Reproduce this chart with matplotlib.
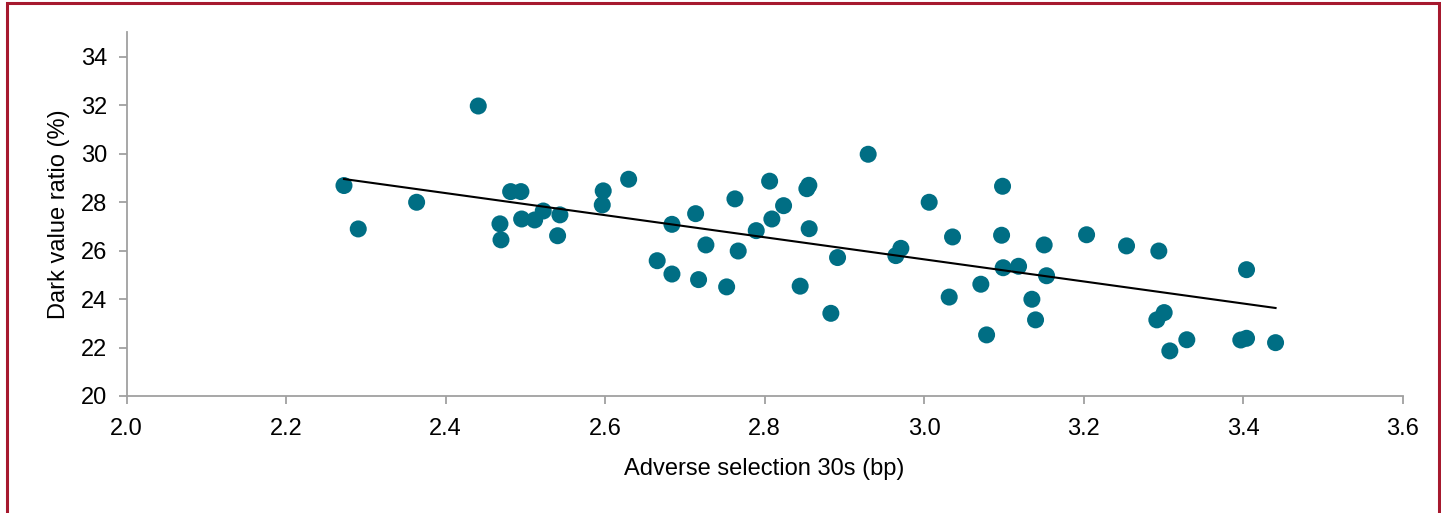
import numpy as np
import matplotlib
matplotlib.use("Agg")
import matplotlib.pyplot as plt
from matplotlib.patches import Rectangle
from matplotlib import font_manager

# ---- data ----
adverse_selection = [
    2.2725, 2.2904, 2.3636, 2.4409, 2.4681, 2.4694, 2.4815, 2.4944, 2.4953, 2.5116,
    2.5224, 2.5433, 2.5404, 2.5976, 2.5964, 2.6295, 2.6653, 2.6838, 2.6838, 2.7135,
    2.7264, 2.7172, 2.7524, 2.7628, 2.7669, 2.7895, 2.8063, 2.8091, 2.8238, 2.8446,
    2.8530, 2.8555, 2.8559, 2.8831, 2.8915, 2.9299, 2.9646, 2.9709, 3.0064, 3.0315,
    3.0357, 3.0712, 3.0784, 3.0984, 3.0972, 3.0992, 3.1185, 3.1352, 3.1398, 3.1506,
    3.1536, 3.2038, 3.2539, 3.2944, 3.3011, 3.2919, 3.3082, 3.3295, 3.3972, 3.4044,
    3.4044, 3.4408,
]
dark_value_ratio = [
    28.68, 26.89, 27.99, 31.96, 27.10, 26.44, 28.43, 28.43, 27.30, 27.26,
    27.63, 27.47, 26.61, 28.46, 27.88, 28.94, 25.58, 25.03, 27.08, 27.52,
    26.23, 24.80, 24.50, 28.13, 25.98, 26.82, 28.86, 27.30, 27.85, 24.53,
    28.55, 28.69, 26.90, 23.41, 25.71, 29.97, 25.79, 26.09, 27.99, 24.08,
    26.56, 24.61, 22.52, 28.65, 26.63, 25.29, 25.35, 23.99, 23.14, 26.23,
    24.96, 26.65, 26.19, 25.98, 23.44, 23.14, 21.86, 22.32, 22.31, 22.38,
    25.21, 22.20,
]
x_ticks = [2.0, 2.2, 2.4, 2.6, 2.8, 3.0, 3.2, 3.4, 3.6]
y_ticks = [20, 22, 24, 26, 28, 30, 32, 34]
x_label = "Adverse selection 30s (bp)"
y_label = "Dark value ratio (%)"

# ---- font ----
available = {f.name for f in font_manager.fontManager.ttflist}
family = ["Liberation Sans Narrow", "DejaVu Sans"] if "Liberation Sans Narrow" in available \
    else ["Liberation Sans", "DejaVu Sans"]
plt.rcParams["font.family"] = family
fs = 18 if "Liberation Sans Narrow" in available else 17

W, H = 1441, 513
fig = plt.figure(figsize=(W / 100, H / 100), dpi=100)
ax = fig.add_axes([126.7 / W, 1 - 396 / H, (1402.5 - 126.7) / W, (396 - 32.3) / H])

x = np.array(adverse_selection)
y = np.array(dark_value_ratio)

ax.scatter(x, y, s=150, color="#006E84", edgecolors="none", zorder=3)

# linear trend line (least squares), spanning data range
slope, intercept = np.polyfit(x, y, 1)
xs = np.array([x.min(), x.max()])
ax.plot(xs, slope * xs + intercept, color="black", lw=1.5, zorder=4)

ax.set_xlim(2.0, 3.6)
ax.set_ylim(20, 35)
ax.set_xticks(x_ticks)
ax.set_xticklabels([f"{v:.1f}" for v in x_ticks])
ax.set_yticks(y_ticks)
ax.set_yticklabels([str(v) for v in y_ticks])

for side in ["top", "right"]:
    ax.spines[side].set_visible(False)
for side in ["left", "bottom"]:
    ax.spines[side].set_color("#A0A0A0")
    ax.spines[side].set_linewidth(1.3)

ax.tick_params(axis="both", direction="out", length=6, width=1.3, color="#A0A0A0",
               labelsize=fs, labelcolor="black")
ax.tick_params(axis="x", pad=10)
ax.tick_params(axis="y", pad=8)

ax.set_xlabel(x_label, fontsize=fs, labelpad=13)
ax.set_ylabel(y_label, fontsize=fs, labelpad=8)

# frame border
fig.patches.append(Rectangle((7 / W, -0.05), (1439 - 7) / W, 1.05 - 3 / H,
                             transform=fig.transFigure, fill=False,
                             edgecolor="#A6192E", lw=2.2, zorder=10))

fig.savefig("out.png", dpi=100)
